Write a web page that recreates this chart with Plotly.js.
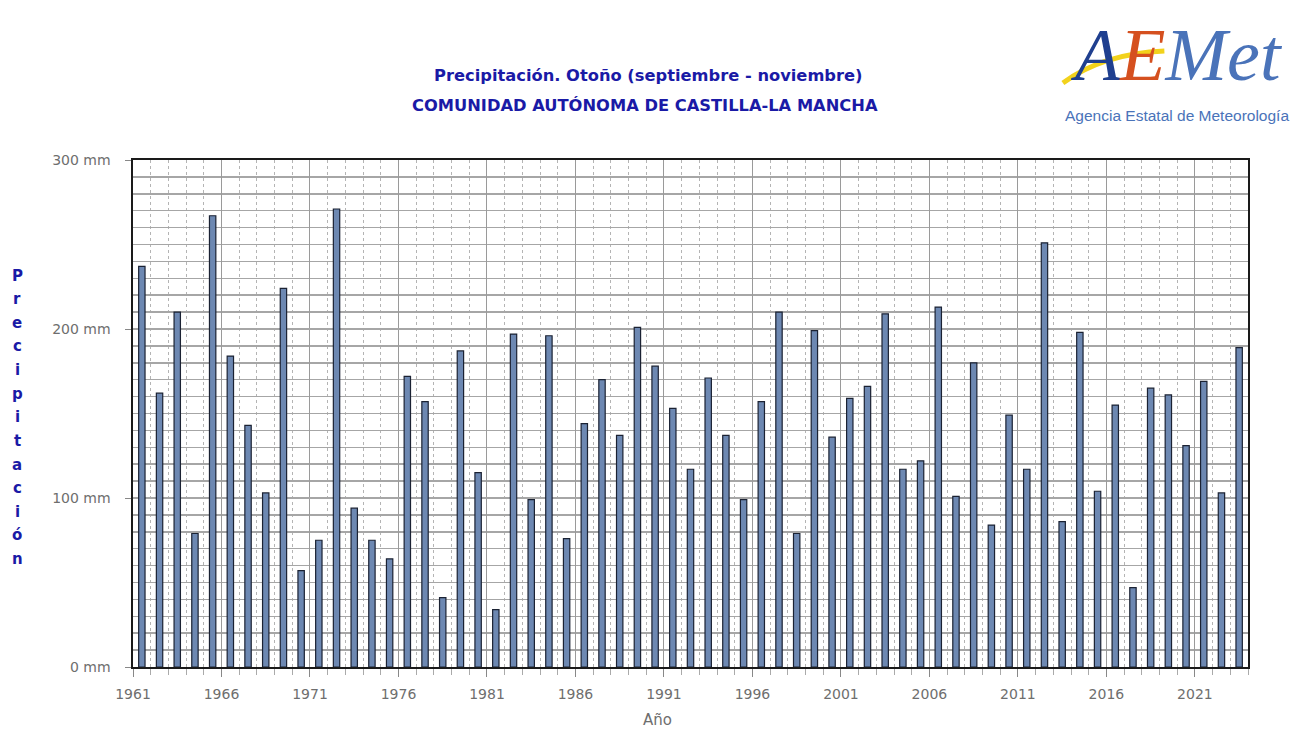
<!DOCTYPE html>
<html>
<head>
<meta charset="utf-8">
<script src="https://cdn.plot.ly/plotly-3.0.1.min.js"></script>
<style>
  html, body { margin: 0; padding: 0; background: #fff; }
  #chart { width: 1301px; height: 730px; }
</style>
</head>
<body>
<div id="chart"></div>
<script>
// Precipitación otoño (sep-nov), Castilla-La Mancha, mm
const years = [];
for (let y = 1961; y <= 2023; y++) years.push(y);

const precip = [
    237, 162, 210, 79, 267, 184, 143, 103, 224, 57,
    75, 271, 94, 75, 64, 172, 157, 41, 187, 115,
    34, 197, 99, 196, 76, 144, 170, 137, 201, 178,
    153, 117, 171, 137, 99, 157, 210, 79, 199, 136,
    159, 166, 209, 117, 122, 213, 101, 180, 84, 149,
    117, 251, 86, 198, 104, 155, 47, 165, 161, 131,
    169, 103, 189
];

const yearLabels = ["1961", "1966", "1971", "1976", "1981", "1986",
                    "1991", "1996", "2001", "2006", "2011", "2016", "2021"];
const yTicks = [0, 100, 200, 300];
const yTickText = ["0 mm", "100 mm", "200 mm", "300 mm"];

const title1 = "Precipitación. Otoño (septiembre - noviembre)";
const title2 = "COMUNIDAD AUTÓNOMA DE CASTILLA-LA MANCHA";
const yTitle = "Precipitación";
const xTitle = "Año";

const BLUE = "#1a1aa6";
const GREY = "#6e6e6e";

const data = [{
    type: "bar",
    x: years,
    y: precip,
    width: 0.36,
    marker: {
        color: "#6d88b2",
        line: {color: "#1b2233", width: 1.2}
    },
    hoverinfo: "x+y"
}];

// labels sit on the category boundaries, like the original
const tickPos = yearLabels.map(t => Number(t) - 0.5);

// vertical title: one letter per line
const letterAnns = yTitle.split("").map((ch, i) => ({
    text: ch,
    xref: "paper", yref: "paper",
    x: -0.104, y: 0.772 - i * 0.0466,
    xanchor: "center", yanchor: "middle",
    showarrow: false,
    font: {family: "DejaVu Sans", size: 15, color: BLUE, weight: "bold"}
}));

const layout = {
    width: 1301,
    height: 730,
    paper_bgcolor: "#fff",
    plot_bgcolor: "#fff",
    showlegend: false,
    margin: {l: 133, r: 53, t: 160, b: 63, pad: 0},
    font: {family: "DejaVu Sans", color: GREY},
    xaxis: {
        range: [1960.5, 2023.5],
        tickvals: tickPos,
        ticktext: yearLabels,
        ticks: "outside",
        ticklen: 8,
        tickcolor: "#888",
        tickfont: {size: 14, color: GREY},
        ticklabelstandoff: 6,
        showgrid: true,
        gridcolor: "#9a9a9a",
        gridwidth: 1,
        minor: {
            tick0: 1960.5,
            dtick: 1,
            ticks: "outside",
            ticklen: 6,
            tickcolor: "#aaa",
            showgrid: true,
            gridcolor: "#b4b4b4",
            griddash: "dot",
            gridwidth: 1
        },
        showline: true,
        linecolor: "#1a1a1a",
        linewidth: 1.6,
        mirror: true,
        zeroline: false,
        fixedrange: true
    },
    yaxis: {
        range: [0, 300],
        tickvals: yTicks,
        ticktext: yTickText,
        ticks: "outside",
        ticklen: 6,
        tickcolor: "#888",
        tickfont: {size: 14, color: GREY},
        ticklabelstandoff: 12,
        showgrid: true,
        gridcolor: "#a6a6a6",
        gridwidth: 1.5,
        minor: {
            dtick: 10,
            showgrid: true,
            gridcolor: "#a6a6a6",
            gridwidth: 1.5
        },
        showline: true,
        linecolor: "#1a1a1a",
        linewidth: 1.6,
        mirror: true,
        zeroline: false,
        fixedrange: true
    },
    annotations: [
        {
            text: title1, xref: "paper", yref: "paper",
            x: 0.462, y: 1.166, xanchor: "center", yanchor: "middle",
            showarrow: false,
            font: {family: "DejaVu Sans", size: 16.3, color: BLUE, weight: "bold"}
        },
        {
            text: title2, xref: "paper", yref: "paper",
            x: 0.459, y: 1.108, xanchor: "center", yanchor: "middle",
            showarrow: false,
            font: {family: "DejaVu Sans", size: 16.3, color: BLUE, weight: "bold"}
        },
        {
            text: xTitle, xref: "paper", yref: "paper",
            x: 0.47, y: -0.1045, xanchor: "center", yanchor: "middle",
            showarrow: false,
            font: {family: "DejaVu Sans", size: 15, color: GREY}
        },
        // logo, drawn as text
        {
            text: "<span style='color:#1f3f8f'>A</span><span style='color:#d5501f'>E</span><span style='color:#4a73b9'>Met</span>",
            xref: "paper", yref: "paper",
            x: 0.936, y: 1.208, xanchor: "center", yanchor: "middle",
            showarrow: false,
            font: {family: "Liberation Serif", size: 74, style: "italic"}
        },
        {
            text: "Agencia Estatal de Meteorología",
            xref: "paper", yref: "paper",
            x: 0.936, y: 1.088, xanchor: "center", yanchor: "middle",
            showarrow: false,
            font: {family: "Liberation Sans Narrow, Liberation Sans", size: 15.5, color: "#4a73b9"}
        }
    ].concat(letterAnns),
    shapes: [
        {
            // yellow swoosh of the logo
            type: "path", xref: "paper", yref: "paper",
            path: "M 0.834 1.152 Q 0.87 1.21 0.925 1.215",
            line: {color: "#f2d21c", width: 5}
        }
    ]
};

Plotly.newPlot("chart", data, layout, {displayModeBar: false, staticPlot: true});
</script>
</body>
</html>
